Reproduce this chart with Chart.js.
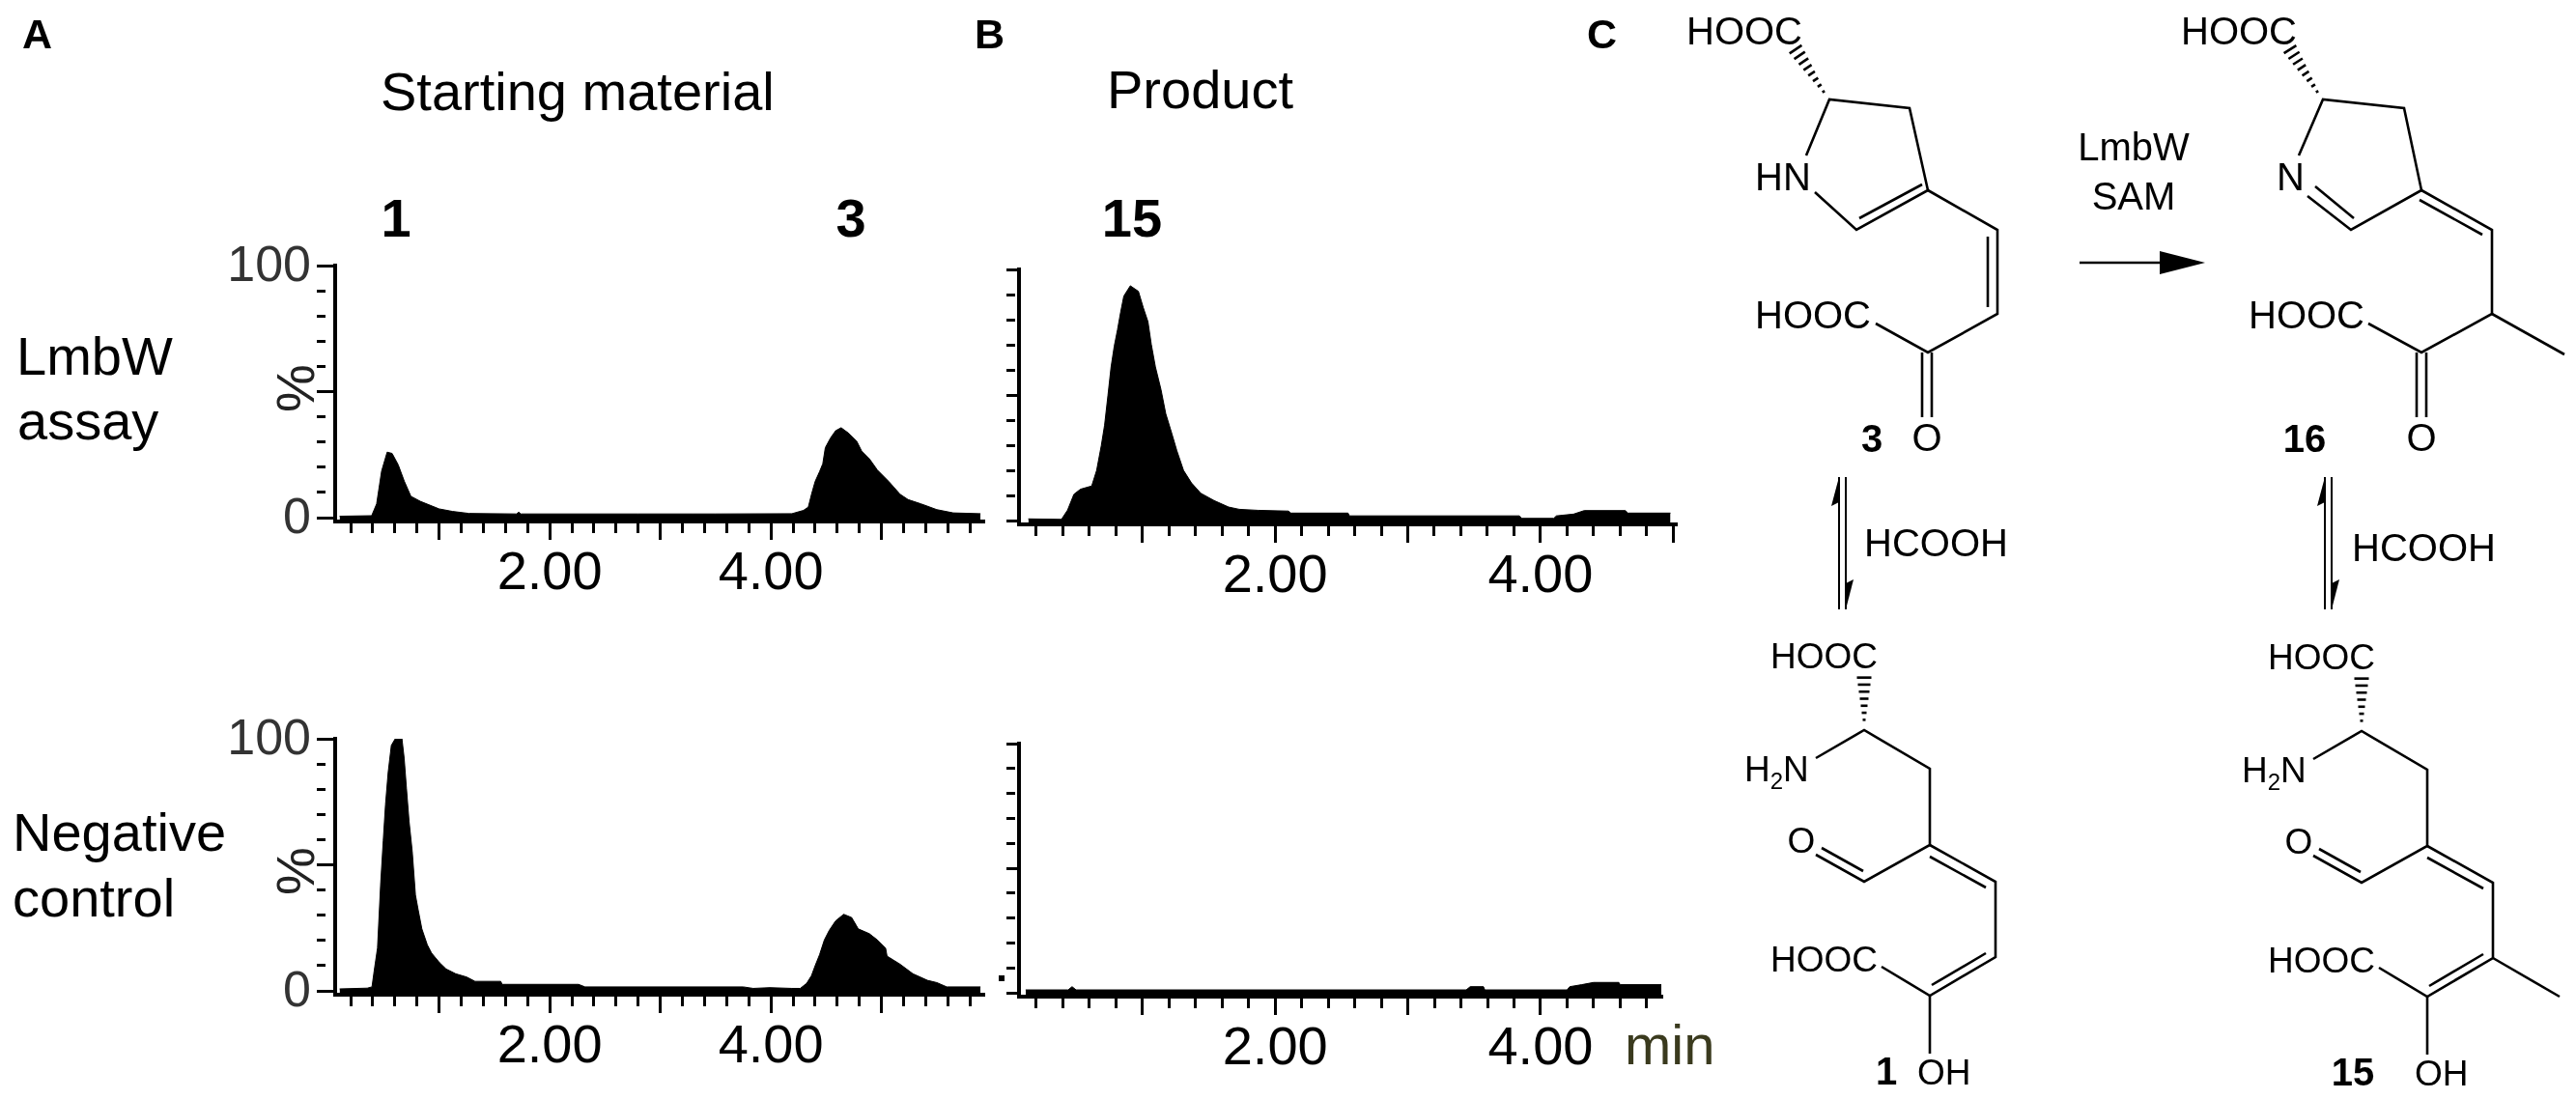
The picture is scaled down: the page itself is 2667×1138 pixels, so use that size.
<!DOCTYPE html>
<html>
<head>
<meta charset="utf-8">
<title>LmbW assay</title>
<script src="https://cdn.jsdelivr.net/npm/chart.js@4"></script>
<style>
  html, body { margin: 0; padding: 0; background: #fff; }
  body { position: relative; width: 2667px; height: 1138px; overflow: hidden; }
  canvas { position: absolute; }
  svg { position: absolute; left: 0; top: 0; font-family: "Liberation Sans", Arial, sans-serif; }
  .big { font-size: 56px; fill: #000; }
  .chem { font-size: 40px; fill: #000; }
  .chem2 { font-size: 37px; fill: #000; }
  .b { font-weight: bold; }
  .bond { stroke: #000; stroke-width: 2.6; fill: none; }
</style>
</head>
<body>
<canvas id="aTop"></canvas>
<canvas id="aBottom"></canvas>
<canvas id="bTop"></canvas>
<canvas id="bBottom"></canvas>

<svg id="notes" width="2667" height="1138">
  <!-- panel text -->
  <text class="b" x="23" y="50" font-size="43">A</text>
  <text class="b" x="1009" y="50" font-size="43">B</text>
  <text class="b" x="1643" y="50" font-size="43">C</text>
  <text class="big" x="394" y="114">Starting material</text>
  <text class="big" x="1146" y="112">Product</text>
  <text class="big b" x="410" y="245" text-anchor="middle">1</text>
  <text class="big b" x="881" y="245" text-anchor="middle">3</text>
  <text class="big b" x="1172" y="245" text-anchor="middle">15</text>
  <text class="big" x="17" y="388">LmbW</text>
  <text class="big" x="18" y="455">assay</text>
  <text class="big" x="13" y="881">Negative</text>
  <text class="big" x="13" y="949">control</text>
  <text x="307" y="420" font-size="56" fill="#222" text-anchor="middle" transform="rotate(-90 307 402)">%</text>
  <text x="307" y="920" font-size="56" fill="#222" text-anchor="middle" transform="rotate(-90 307 902)">%</text>
  <text x="1682" y="1102" font-size="58" fill="#3a3a1e">min</text>
  <rect x="1034" y="1010" width="6" height="6" fill="#000"/>

  <!-- compound 3 -->
  <text class="chem" x="1746" y="46">HOOC</text>
  <text class="chem" x="1817" y="197">HN</text>
  <text class="chem" x="1817" y="340">HOOC</text>
  <text class="chem" x="1995" y="467" text-anchor="middle">O</text>
  <text class="chem b" x="1938" y="468" text-anchor="middle">3</text>
  <path class="bond" d="M1870 161 L1894 103 L1977 112 L1996 197 L1922 238 L1879 199"/>
  <path class="bond" d="M1925 226 L1990 191"/>
  <path class="bond" d="M1996 197 L2068 238 L2068 325 L1996 365 L1942 335"/>
  <path class="bond" d="M2058 245 L2058 318"/>
  <path class="bond" d="M1990 365 L1990 432 M2000 365 L2000 432"/>

  <!-- compound 16 -->
  <text class="chem" x="2258" y="46">HOOC</text>
  <text class="chem" x="2357" y="197">N</text>
  <text class="chem" x="2328" y="340">HOOC</text>
  <text class="chem" x="2507" y="467" text-anchor="middle">O</text>
  <text class="chem b" x="2386" y="468" text-anchor="middle">16</text>
  <path class="bond" d="M2380 161 L2405 103 L2489 112 L2507 197 L2434 238 L2389 203"/>
  <path class="bond" d="M2397 193 L2437 226"/>
  <path class="bond" d="M2507 197 L2580 238 L2580 325 L2507 365 L2452 335"/>
  <path class="bond" d="M2505 207 L2570 243"/>
  <path class="bond" d="M2580 325 L2655 367"/>
  <path class="bond" d="M2502 365 L2502 432 M2512 365 L2512 432"/>

  <!-- reaction arrows -->
  <text class="chem" x="2209" y="166" text-anchor="middle">LmbW</text>
  <text class="chem" x="2209" y="217" text-anchor="middle">SAM</text>
  <path class="bond" d="M2153 272 L2240 272"/>
  <polygon points="2283,272 2236,260 2236,284" fill="#000"/>
  <path class="bond" style="stroke-width:2" d="M1904 494 L1904 631 M1911 494 L1911 631"/>
  <polygon points="1904,494 1896,524 1904,520" fill="#000"/>
  <polygon points="1911,631 1919,600 1911,604" fill="#000"/>
  <path class="bond" style="stroke-width:2" d="M2407 494 L2407 631 M2414 494 L2414 631"/>
  <polygon points="2407,494 2399,524 2407,520" fill="#000"/>
  <polygon points="2414,631 2422,600 2414,604" fill="#000"/>
  <text class="chem" x="1930" y="576">HCOOH</text>
  <text class="chem" x="2435" y="581">HCOOH</text>

  <!-- compound 1 -->
  <text class="chem2" x="1833" y="692">HOOC</text>
  <text class="chem2" x="1806" y="809">H<tspan font-size="24" dy="8">2</tspan><tspan dy="-8">N</tspan></text>
  <text class="chem2" x="1865" y="883" text-anchor="middle">O</text>
  <text class="chem2" x="1833" y="1006">HOOC</text>
  <text class="chem2" x="1985" y="1123">OH</text>
  <text class="chem b" x="1953" y="1123" text-anchor="middle">1</text>
  <path class="bond" d="M1880 785 L1930 756 L1998 796 L1998 875 L1930 913 L1880 885"/>
  <path class="bond" d="M1929 902 L1886 878"/>
  <path class="bond" d="M1998 875 L2066 913 L2066 991 L1998 1031 L1948 1001"/>
  <path class="bond" d="M1998 887 L2056 919"/>
  <path class="bond" d="M2056 987 L2000 1020"/>
  <path class="bond" d="M1998 1031 L1998 1091"/>

  <!-- compound 15 -->
  <text class="chem2" x="2348" y="693">HOOC</text>
  <text class="chem2" x="2321" y="810">H<tspan font-size="24" dy="8">2</tspan><tspan dy="-8">N</tspan></text>
  <text class="chem2" x="2380" y="884" text-anchor="middle">O</text>
  <text class="chem2" x="2348" y="1007">HOOC</text>
  <text class="chem2" x="2500" y="1124">OH</text>
  <text class="chem b" x="2436" y="1124" text-anchor="middle">15</text>
  <path class="bond" d="M2395 786 L2445 757 L2513 797 L2513 876 L2445 914 L2395 886"/>
  <path class="bond" d="M2444 903 L2401 879"/>
  <path class="bond" d="M2513 876 L2581 914 L2581 992 L2513 1032 L2463 1002"/>
  <path class="bond" d="M2513 888 L2571 920"/>
  <path class="bond" d="M2571 988 L2515 1021"/>
  <path class="bond" d="M2513 1032 L2513 1092"/>
  <path class="bond" d="M2581 992 L2650 1032"/>
</svg>

<script>
// chromatogram traces (time in min, signal in %)
var aTopTime = [0.10, 0.39, 0.435, 0.48, 0.53, 0.575, 0.63, 0.685, 0.745, 0.83, 1.0, 1.12, 1.27, 1.7, 1.72, 1.74, 2.8, 3.3, 3.5, 4.19, 4.294, 4.338, 4.367, 4.40, 4.44, 4.469, 4.492, 4.54, 4.585, 4.635, 4.70, 4.775, 4.82, 4.89, 4.963, 5.065, 5.168, 5.24, 5.357, 5.50, 5.648, 5.895];
var aTopSignal = [0.6, 0.8, 5.5, 18.5, 26, 25.5, 21, 14.5, 8.5, 6.5, 3.5, 2.5, 1.7, 1.5, 2.2, 1.5, 1.5, 1.5, 1.5, 1.6, 2.9, 4.2, 9.3, 14.4, 18.3, 21.4, 27.8, 31.7, 34.5, 35.7, 33.6, 30.4, 26.5, 23.4, 18.9, 14.4, 9.3, 7.2, 5.5, 3.2, 1.9, 1.6];

var aBottomTime = [0.10, 0.35, 0.393, 0.413, 0.443, 0.472, 0.495, 0.515, 0.539, 0.568, 0.603, 0.664, 0.684, 0.705, 0.728, 0.757, 0.786, 0.81, 0.844, 0.893, 0.932, 1.004, 1.063, 1.15, 1.25, 1.325, 1.557, 1.57, 2.26, 2.32, 3.75, 3.84, 3.99, 4.19, 4.265, 4.323, 4.367, 4.40, 4.44, 4.483, 4.527, 4.585, 4.658, 4.73, 4.79, 4.89, 4.963, 5.037, 5.05, 5.168, 5.284, 5.415, 5.50, 5.59, 5.895];
var aBottomSignal = [0.8, 1.1, 1.6, 8, 17, 43, 59.7, 73.8, 86.6, 97.4, 100, 100, 92.3, 80.2, 67.4, 55.3, 38, 32.3, 24.6, 18.3, 15, 11.2, 8.7, 6.8, 5.5, 3.8, 3.8, 2.6, 2.6, 1.6, 1.6, 1.0, 1.3, 1.0, 1.0, 3, 6.1, 10, 14.4, 20.2, 24, 27.8, 30.4, 29.1, 24.6, 22.7, 20.2, 17, 13.8, 10.6, 6.8, 4.2, 3.3, 1.6, 1.6];

var bTopTime = [0.14, 0.39, 0.436, 0.484, 0.533, 0.618, 0.655, 0.69, 0.715, 0.74, 0.764, 0.788, 0.812, 0.836, 0.86, 0.909, 0.97, 1.006, 1.042, 1.067, 1.098, 1.14, 1.176, 1.224, 1.26, 1.31, 1.37, 1.44, 1.54, 1.65, 1.73, 1.87, 2.1, 2.12, 2.55, 2.56, 3.84, 3.86, 4.1, 4.12, 4.25, 4.33, 4.64, 4.66, 4.98];
var bTopSignal = [0.7, 0.5, 4.2, 10.5, 12.5, 13.8, 20, 29.8, 38, 49.7, 61.2, 69.5, 75.9, 83, 89.4, 93.5, 91.3, 84.9, 79.2, 70.2, 61.2, 52.2, 42.6, 34.3, 27.8, 20, 15, 10.9, 8, 5.4, 4.5, 4.1, 3.8, 3, 3, 1.9, 1.9, 0.9, 0.9, 1.9, 2.6, 4, 4, 3, 3];

var bBottomTime = [0.12, 0.44, 0.47, 0.5, 3.44, 3.47, 3.57, 3.58, 4.2, 4.22, 4.31, 4.4, 4.59, 4.6, 4.91];
var bBottomSignal = [1.2, 1.2, 2.5, 1.2, 1.2, 2.5, 2.5, 1.2, 1.2, 2.5, 3.3, 4.2, 4.2, 3.3, 3.3];

// axis labels that are printed
var yTickLabels = [0, 100];
var xTickLabels = [2, 4];

var FONT = '"Liberation Sans", Arial, sans-serif';
var Y_WIDTH = 120, X_HEIGHT = 85, PAD_TOP = 40, PAD_RIGHT = 20;

function drawPanel(id, box, time, signal, showY) {
  var el = document.getElementById(id);
  el.width = Y_WIDTH + box.right - box.left + PAD_RIGHT;
  el.height = PAD_TOP + box.bottom - box.top + X_HEIGHT;
  el.style.left = (box.left - Y_WIDTH) + "px";
  el.style.top = (box.top - PAD_TOP) + "px";

  new Chart(el, {
    type: "line",
    data: {
      datasets: [{
        data: time.map(function (t, i) { return { x: t, y: signal[i] }; }),
        borderColor: "#000",
        backgroundColor: "#000",
        borderWidth: 1,
        pointRadius: 0,
        fill: "start",
        tension: 0
      }]
    },
    options: {
      responsive: false,
      animation: false,
      devicePixelRatio: 1,
      layout: { padding: { top: PAD_TOP, right: PAD_RIGHT, left: 0, bottom: 0 } },
      plugins: { legend: { display: false }, tooltip: { enabled: false } },
      scales: {
        x: {
          type: "linear",
          min: box.xMin,
          max: box.xMax,
          afterFit: function (s) { s.height = X_HEIGHT; },
          border: { color: "#000", width: 4 },
          grid: {
            drawOnChartArea: false,
            color: "#000",
            lineWidth: 3,
            tickLength: 19,
            // the minor ticks are the long tick with most of it dashed away
            tickBorderDash: function (c) {
              var v = c.tick ? c.tick.value : 0;
              return Math.abs(v - Math.round(v)) < 0.01 ? [] : [10, 100];
            }
          },
          ticks: {
            stepSize: 0.2,
            includeBounds: false,
            autoSkip: false,
            maxRotation: 0,
            padding: 2,
            color: "#000",
            font: { family: FONT, size: 56 },
            callback: function (v) {
              return xTickLabels.indexOf(Math.round(v * 100) / 100) >= 0 ? v.toFixed(2) : "";
            }
          }
        },
        y: {
          min: -1.5,
          max: 100,
          afterFit: function (s) { s.width = Y_WIDTH; },
          border: { color: "#000", width: 4 },
          grid: {
            drawOnChartArea: false,
            color: "#000",
            lineWidth: 3,
            tickLength: box.yTick,
            tickBorderDash: function (c) {
              var v = c.tick ? c.tick.value : 0;
              return v % 50 === 0 ? [] : [9, 100];
            }
          },
          ticks: {
            stepSize: 10,
            includeBounds: false,
            autoSkip: false,
            padding: 6,
            labelOffset: 2,
            color: "#333",
            font: { family: FONT, size: 52 },
            callback: function (v) {
              return showY && yTickLabels.indexOf(v) >= 0 ? String(v) : "";
            }
          }
        }
      }
    }
  });
}

drawPanel("aTop", { left: 347, right: 1018, top: 275, bottom: 540, xMin: 0.06, xMax: 5.92, yTick: 19 }, aTopTime, aTopSignal, true);
drawPanel("aBottom", { left: 347, right: 1018, top: 765, bottom: 1030, xMin: 0.06, xMax: 5.92, yTick: 19 }, aBottomTime, aBottomSignal, true);
drawPanel("bTop", { left: 1055, right: 1735, top: 279, bottom: 543, xMin: 0.07, xMax: 5.02, yTick: 13 }, bTopTime, bTopSignal, false);
drawPanel("bBottom", { left: 1055, right: 1720, top: 770, bottom: 1032, xMin: 0.07, xMax: 4.91, yTick: 13 }, bBottomTime, bBottomSignal, false);

// hashed stereo bonds, narrow end first
function hashBond(x1, y1, x2, y2, count, maxHalf) {
  var svg = document.getElementById("notes");
  var dx = x2 - x1, dy = y2 - y1, len = Math.sqrt(dx * dx + dy * dy);
  for (var i = 0; i < count; i++) {
    var f = (i + 0.5) / count, h = 1 + maxHalf * f;
    var px = x1 + dx * f, py = y1 + dy * f;
    var l = document.createElementNS("http://www.w3.org/2000/svg", "line");
    l.setAttribute("x1", px - dy / len * h);
    l.setAttribute("y1", py + dx / len * h);
    l.setAttribute("x2", px + dy / len * h);
    l.setAttribute("y2", py - dx / len * h);
    l.setAttribute("stroke", "#000");
    l.setAttribute("stroke-width", 2.6);
    svg.appendChild(l);
  }
}
hashBond(1890, 98, 1857, 48, 8, 7);
hashBond(2401, 98, 2369, 48, 8, 7);
hashBond(1930, 749, 1930, 698, 7, 7);
hashBond(2445, 750, 2445, 699, 7, 7);
</script>
</body>
</html>
